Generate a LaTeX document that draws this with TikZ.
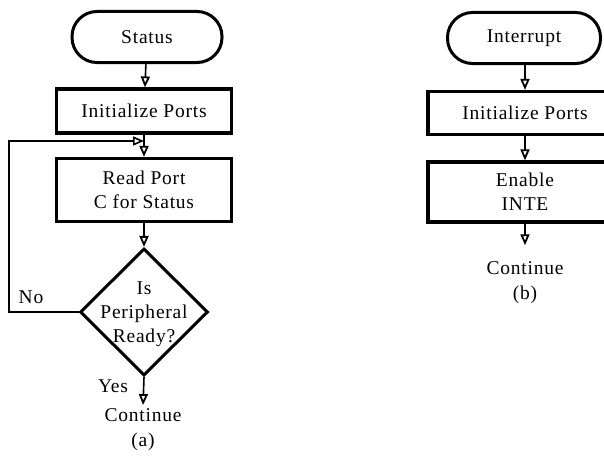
\documentclass[tikz,border=0pt]{standalone}
\usepackage{fontspec}
\setmainfont{Liberation Serif}[LetterSpace=4]
\usepackage{tikz}
\usetikzlibrary{shapes.geometric,arrows.meta,positioning,calc}

\tikzset{
  term/.style={draw,line width=3pt,rectangle,rounded corners=25pt,minimum height=51pt,inner sep=0pt},
  procbox/.style={draw,line width=3.2pt,rectangle,inner sep=0pt,align=center},
  decision/.style={draw,line width=3pt,diamond,minimum width=128pt,minimum height=127pt,inner sep=0pt},
  flow/.style={line width=1.6pt,-{Triangle[open,length=11pt,width=9pt,line width=1.8pt]}},
  txt/.style={align=center,inner sep=2pt}
}

\begin{document}
\begin{tikzpicture}[x=1pt,y=-1pt,font=\fontsize{19.5}{24}\selectfont]
          \useasboundingbox (0,0) rectangle (604,460);
          \clip (0,0) rectangle (604,460);
          % (a) status polling
          \node[term,minimum width=150pt] (status) at (147,37) {Status};
          \node[procbox,minimum width=175pt,minimum height=44pt] (initL) at (144,111) {Initialize Ports};
          \node[procbox,minimum width=175pt,minimum height=63pt] (readport) at (144,190) {Read Port\\C for Status};
          \node[decision] (ready) at (144,312) {};
          \node[txt] (readytxt) at (144,314) {Is\\Peripheral\\Ready?};
          \node[txt,anchor=north] (contL) at (143,406) {Continue};
          \node[txt] (capA) at (143,442) {(a)};
          \node[txt] (no) at (31,297) {No};
          \node[txt] (yes) at (113,386) {Yes};
          \coordinate (join) at (initL.south |- 0,141);
          \coordinate (cornerB) at (9,312);
          \coordinate (cornerT) at (9,141);
          \draw[flow] (status) -- (initL);
          \draw[flow] (initL) -- (readport);
          \draw[flow] (readport) -- (ready);
          \draw[flow,shorten >=1pt] (ready.south) -- (contL.north);
          \draw[line width=1.1pt,-{Triangle[open,length=11pt,width=9pt,line width=1.6pt]}] (ready.west) -- (cornerB) -- (cornerT) -- (join);
          % (b) interrupt driven
          \node[term,minimum width=153pt] (intr) at (524,38) {Interrupt};
          \node[procbox,minimum width=194pt,minimum height=43pt] (initR) at (525,113) {Initialize Ports};
          \node[procbox,minimum width=194pt,minimum height=60pt] (enable) at (525,192) {Enable\\INTE};
          \node[txt] (contR) at (525,268) {Continue};
          \node[txt] (capB) at (525,295) {(b)};
          \draw[flow] (intr.south -| initR) -- (initR);
          \draw[flow] (initR) -- (enable);
          \draw[flow,shorten >=14pt] (enable) -- (contR);
\end{tikzpicture}
\end{document}
